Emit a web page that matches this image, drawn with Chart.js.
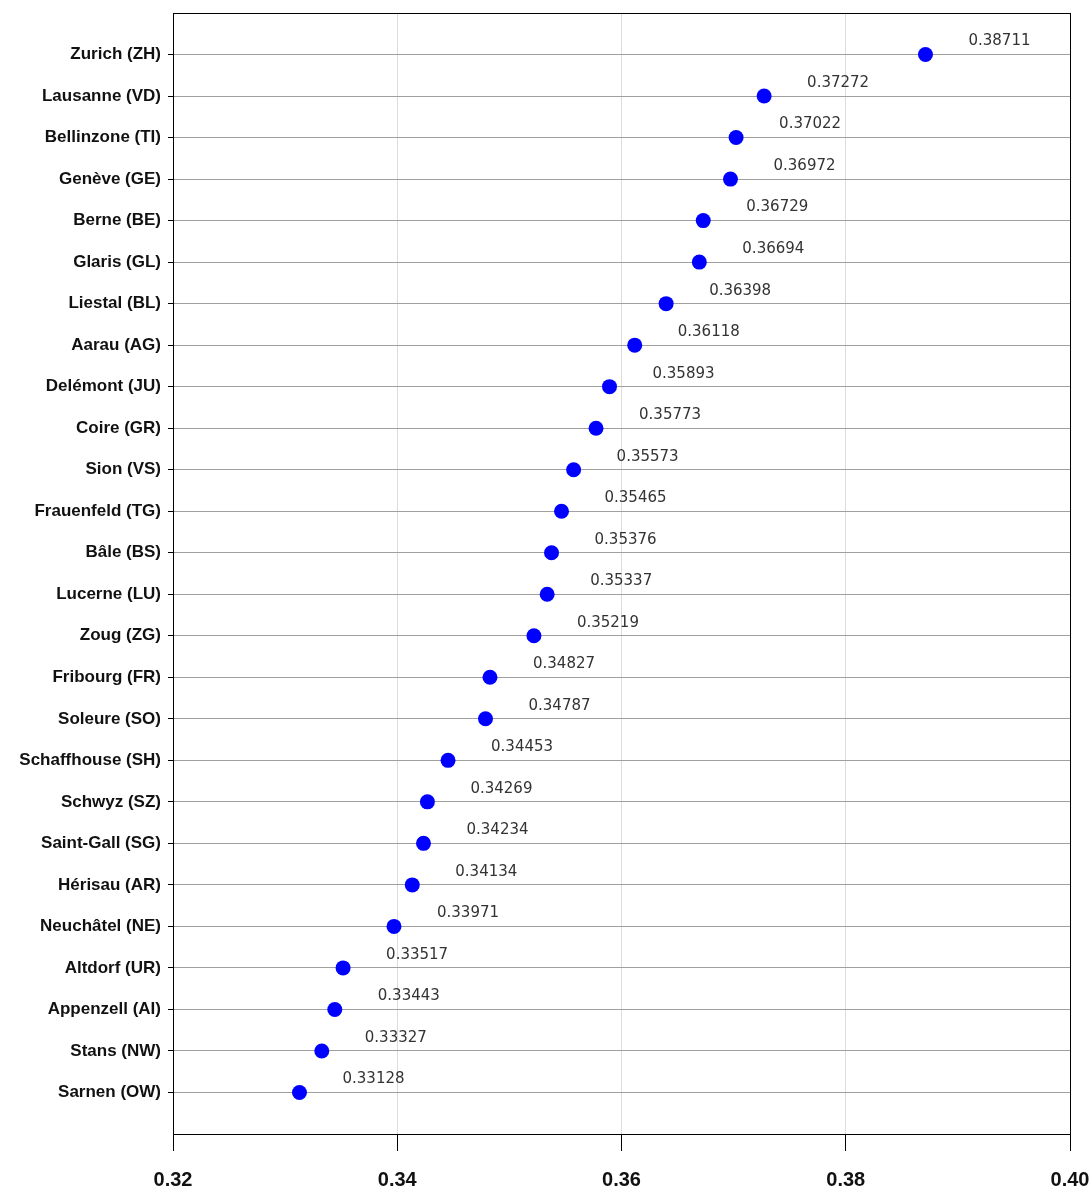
<!DOCTYPE html>
<html>
<head>
<meta charset="utf-8">
<script src="https://cdn.jsdelivr.net/npm/chart.js@4"></script>
<style>
html,body{margin:0;padding:0;background:#fff;}
#wrap{width:1091px;height:1189px;}
</style>
</head>
<body>
<div id="wrap"><canvas id="c" width="1091" height="1189"></canvas></div>
<script>
const categories = ["Zurich (ZH)","Lausanne (VD)","Bellinzone (TI)","Genève (GE)","Berne (BE)","Glaris (GL)","Liestal (BL)","Aarau (AG)","Delémont (JU)","Coire (GR)","Sion (VS)","Frauenfeld (TG)","Bâle (BS)","Lucerne (LU)","Zoug (ZG)","Fribourg (FR)","Soleure (SO)","Schaffhouse (SH)","Schwyz (SZ)","Saint-Gall (SG)","Hérisau (AR)","Neuchâtel (NE)","Altdorf (UR)","Appenzell (AI)","Stans (NW)","Sarnen (OW)"];
const values = [0.38711,0.37272,0.37022,0.36972,0.36729,0.36694,0.36398,0.36118,0.35893,0.35773,0.35573,0.35465,0.35376,0.35337,0.35219,0.34827,0.34787,0.34453,0.34269,0.34234,0.34134,0.33971,0.33517,0.33443,0.33327,0.33128];
const xTickValues = [0.32,0.34,0.36,0.38,0.40];

const points = values.map((v,i)=>({x:v,y:i}));

const labelPlugin = {
  id:'valueLabels',
  afterDatasetsDraw(chart){
    const ctx = chart.ctx;
    const meta = chart.getDatasetMeta(0);
    ctx.save();
    ctx.font = '15px "DejaVu Sans", sans-serif';
    ctx.fillStyle = '#333';
    ctx.textAlign = 'left';
    ctx.textBaseline = 'middle';
    meta.data.forEach((el,i)=>{
      ctx.fillText(values[i].toFixed(5), el.x + 43, el.y - 13);
    });
    ctx.restore();
  }
};
const boxPlugin = {
  id:'box',
  afterDraw(chart){
    const a = chart.chartArea, ctx = chart.ctx;
    ctx.save();
    ctx.strokeStyle = '#000';
    ctx.lineWidth = 1;
    ctx.strokeRect(Math.round(a.left)+0.5, Math.round(a.top)+0.5, Math.round(a.right-a.left), Math.round(a.bottom-a.top));
    ctx.restore();
  }
};

new Chart(document.getElementById('c'), {
  type:'scatter',
  data:{datasets:[{data:points, backgroundColor:'#0000ff', borderWidth:0, pointRadius:7.5, pointHoverRadius:7.5}]},
  options:{
    responsive:false,
    animation:false,
    events:[],
    layout:{padding:{top:13,right:21,left:0,bottom:0}},
    plugins:{legend:{display:false},tooltip:{enabled:false}},
    scales:{
      x:{
        type:'linear', min:xTickValues[0], max:xTickValues[xTickValues.length-1],
        afterBuildTicks(s){ s.ticks = xTickValues.map(v=>({value:v})); },
        afterFit(s){ s.height = 55; s.paddingLeft = 0; s.paddingRight = 0; },
        ticks:{stepSize:0.02, padding:17, color:'#111', font:{family:'"Liberation Sans", Arial, sans-serif', size:20, weight:'bold'}, callback:(v)=>Number(v).toFixed(2), maxRotation:0},
        grid:{color:(c)=> (c.index===0||c.index===xTickValues.length-1)?'#000':'#dcdcdc', tickColor:'#000', tickLength:17, lineWidth:1},
        border:{color:'#000', width:1}
      },
      y:{
        type:'linear', min:-1, max:categories.length, reverse:true,
        afterBuildTicks(s){ const t=[]; for(let i=-1;i<=categories.length;i++) t.push({value:i}); s.ticks=t; },
        afterFit(s){ s.width = 173; s.paddingTop = 0; s.paddingBottom = 0; },
        ticks:{stepSize:1, autoSkip:false, padding:7, color:'#111', font:{family:'"Liberation Sans", Arial, sans-serif', size:17, weight:'bold'}, callback:(v)=> categories[v] !== undefined ? categories[v] : ''},
        grid:{color:(c)=> (c.tick && (c.tick.value<0 || c.tick.value>=categories.length))?'#000':'#a0a0a0', tickColor:(c)=> (c.tick && (c.tick.value<0 || c.tick.value>=categories.length))?'rgba(0,0,0,0)':'#000', tickLength:5, lineWidth:1},
        border:{color:'#000', width:1}
      }
    }
  },
  plugins:[labelPlugin, boxPlugin]
});
</script>
</body>
</html>
